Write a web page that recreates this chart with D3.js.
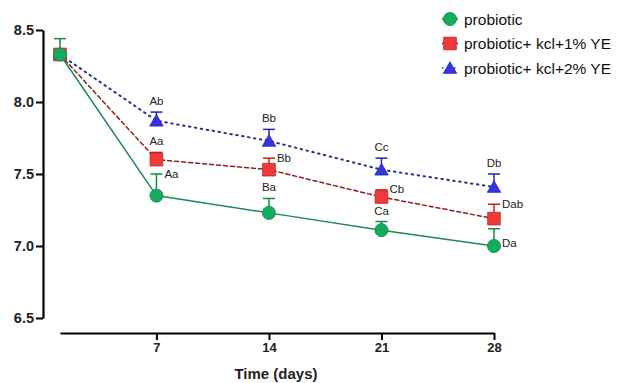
<!DOCTYPE html>
<html>
<head>
<meta charset="utf-8">
<script src="https://cdn.jsdelivr.net/npm/d3@7"></script>
<style>
  html, body { margin: 0; padding: 0; background: #fff; }
  svg { display: block; font-family: 'Liberation Sans', Arial, sans-serif; }
</style>
</head>
<body>
<svg id="chart" width="618" height="383"></svg>
<script>
// sampling days (first point is day 1, unlabelled)
const days = [1, 7, 14, 21, 28];
const xTicks = [7, 14, 21, 28];
const yTicks = [6.5, 7.0, 7.5, 8.0, 8.5];

const seriesNames = ['probiotic', 'probiotic+ kcl+1% YE', 'probiotic+ kcl+2% YE'];

const probioticMean = [8.33, 7.35, 7.23, 7.11, 7.00];
const probioticErr = [0.11, 0.15, 0.10, 0.06, 0.12];
const probioticLetters = ['', 'Aa', 'Ba', 'Ca', 'Da'];

const kcl1Mean = [8.33, 7.60, 7.53, 7.34, 7.19];
const kcl1Err = [0.03, 0.05, 0.08, 0.05, 0.10];
const kcl1Letters = ['', 'Aa', 'Bb', 'Cb', 'Dab'];

const kcl2Mean = [8.33, 7.87, 7.73, 7.53, 7.41];
const kcl2Err = [0.03, 0.06, 0.08, 0.08, 0.09];
const kcl2Letters = ['', 'Ab', 'Bb', 'Cc', 'Db'];

const svg = d3.select('#chart');

const x = d3.scaleLinear().domain([1, 28]).range([60, 494]);
const y = d3.scaleLinear().domain([6.5, 8.5]).range([318, 30]);

// y axis
const yAxis = svg.append('g')
  .attr('transform', 'translate(43,0)')
  .call(d3.axisLeft(y).tickValues(yTicks).tickFormat(d3.format('.1f')).tickSize(7).tickSizeOuter(0));
yAxis.select('.domain').attr('stroke', '#000').attr('stroke-width', 2.2);
yAxis.selectAll('.tick line').attr('stroke', '#000').attr('stroke-width', 2);
yAxis.selectAll('.tick text')
  .attr('font-size', 14.5).attr('font-weight', 'bold').attr('fill', '#222')
  .attr('font-family', "'Liberation Sans', Arial, sans-serif").attr('x', -9);

// x axis
const xAxis = svg.append('g')
  .attr('transform', 'translate(0,333)')
  .call(d3.axisBottom(x).tickValues(xTicks).tickSize(7).tickSizeOuter(0));
xAxis.select('.domain').attr('stroke', '#000').attr('stroke-width', 2.2);
xAxis.selectAll('.tick line').attr('stroke', '#000').attr('stroke-width', 2);
xAxis.selectAll('.tick text')
  .attr('font-size', 13).attr('font-weight', 'bold').attr('fill', '#222')
  .attr('font-family', "'Liberation Sans', Arial, sans-serif").attr('y', 10);

svg.append('text')
  .attr('x', x(14) + 7).attr('y', 379)
  .attr('text-anchor', 'middle')
  .attr('font-size', 15).attr('font-weight', 'bold').attr('fill', '#222')
  .text('Time (days)');

const series = [
  { name: seriesNames[2], mean: kcl2Mean, err: kcl2Err, letters: kcl2Letters,
    line: '#2b2f8f', dash: '1.5 4.5', fill: '#3434e0', stroke: '#2424b0', shape: d3.symbolTriangle, size: 78,
    labelPos: ['', 'top', 'top', 'top', 'top'] },
  { name: seriesNames[1], mean: kcl1Mean, err: kcl1Err, letters: kcl1Letters,
    line: '#8e1f1f', dash: '4 3', fill: '#f03a3a', stroke: '#c02222', shape: d3.symbolSquare, size: 160,
    labelPos: ['', 'top', 'right', 'right', 'right'] },
  { name: seriesNames[0], mean: probioticMean, err: probioticErr, letters: probioticLetters,
    line: '#1f8a50', dash: null, fill: '#14ad5e', stroke: '#0f8a49', shape: d3.symbolCircle, size: 135,
    labelPos: ['', 'right', 'top', 'top', 'rightlow'] }
];

const lineGen = d3.line().x((d) => x(d[0])).y((d) => y(d[1]));

series.forEach((s) => {
  const pts = days.map((d, i) => [d, s.mean[i], s.err[i], s.letters[i], s.labelPos[i]]);
  const g = svg.append('g');

  g.append('path')
    .datum(pts)
    .attr('d', lineGen)
    .attr('fill', 'none')
    .attr('stroke', s.line)
    .attr('stroke-width', s.dash && s.dash.startsWith('1.5') ? 2 : 1.5)
    .attr('stroke-linecap', 'round')
    .attr('stroke-dasharray', s.dash);

  // upper error bars
  const eb = g.selectAll('.err').data(pts).join('g');
  eb.append('line')
    .attr('x1', (d) => x(d[0])).attr('x2', (d) => x(d[0]))
    .attr('y1', (d) => y(d[1])).attr('y2', (d) => y(d[1] + d[2]))
    .attr('stroke', s.stroke).attr('stroke-width', 1.5);
  eb.append('line')
    .attr('x1', (d) => x(d[0]) - 6).attr('x2', (d) => x(d[0]) + 6)
    .attr('y1', (d) => y(d[1] + d[2])).attr('y2', (d) => y(d[1] + d[2]))
    .attr('stroke', s.stroke).attr('stroke-width', 1.5);

  g.selectAll('.pt').data(pts).join('path')
    .attr('transform', (d) => `translate(${x(d[0])},${y(d[1]) + (s.shape === d3.symbolTriangle ? 1.5 : 0)})`)
    .attr('d', d3.symbol(s.shape, s.size))
    .attr('fill', s.fill)
    .attr('stroke', s.stroke)
    .attr('stroke-width', 0.8);

  g.selectAll('.lbl').data(pts.filter((d) => d[3])).join('text')
    .attr('x', (d) => {
      if (d[4] === 'top') return x(d[0]);
      return x(d[0]) + 8;
    })
    .attr('y', (d) => {
      if (d[4] === 'top') return y(d[1] + d[2]) - 7;
      if (d[4] === 'rightlow') return y(d[1]) + 1;
      return Math.min(y(d[1]) - 4, y(d[1] + d[2]) + 4);
    })
    .attr('text-anchor', (d) => (d[4] === 'top' ? 'middle' : 'start'))
    .attr('font-size', 11.5)
    .attr('fill', '#222')
    .text((d) => d[3]);
});

// legend
const legendItems = [series[2], series[1], series[0]];
const legend = svg.append('g').attr('transform', 'translate(450,19)');
legendItems.forEach((s, i) => {
  const row = legend.append('g').attr('transform', `translate(0,${i * 24.5})`);
  row.append('line')
    .attr('x1', -8).attr('x2', 8)
    .attr('stroke', s.line).attr('stroke-width', 1.5)
    .attr('stroke-dasharray', s.dash);
  row.append('path')
    .attr('transform', `translate(0,${s.shape === d3.symbolTriangle ? 1.5 : 0})`)
    .attr('d', d3.symbol(s.shape, s.size))
    .attr('fill', s.fill).attr('stroke', s.stroke).attr('stroke-width', 0.8);
  row.append('text')
    .attr('x', 14).attr('y', 5.5)
    .attr('font-size', 15.5).attr('fill', '#111')
    .text(s.name);
});
</script>
</body>
</html>
